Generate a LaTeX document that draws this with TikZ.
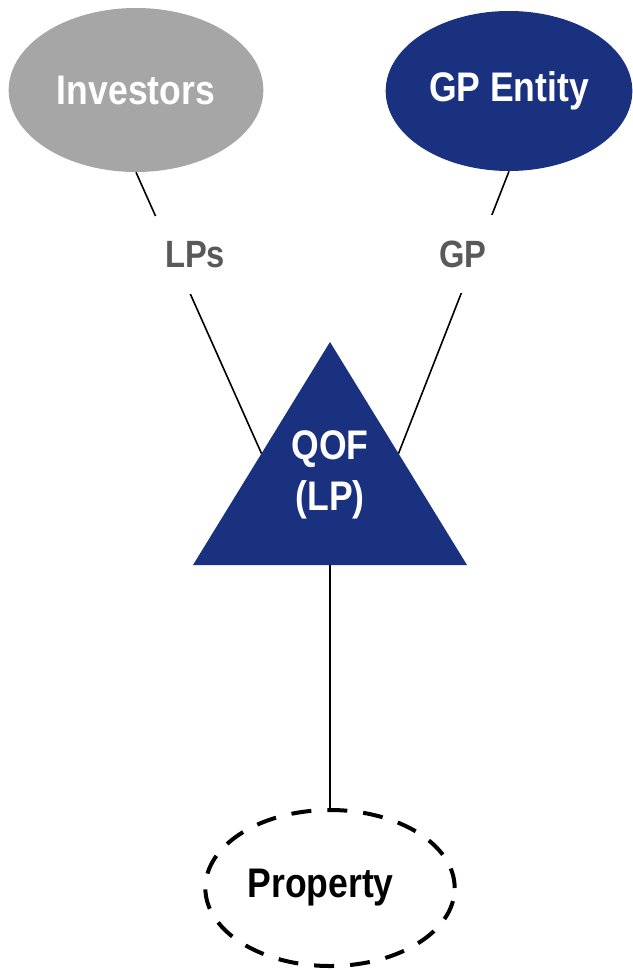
\documentclass[tikz,border=0pt]{standalone}
\usepackage{fontspec}
\setmainfont{Liberation Sans}[FakeStretch=0.86]
\usetikzlibrary{shapes.geometric}
\definecolor{qofblue}{HTML}{1A3180}
\definecolor{invgray}{HTML}{A6A6A6}
\definecolor{sharegray}{HTML}{595959}

\begin{document}
\begin{tikzpicture}[x=0.75pt,y=-0.75pt]
\tikzstyle{owner}=[ellipse,inner sep=0pt,text=white,font=\fontsize{31}{37}\selectfont\bfseries]
\tikzstyle{share}=[fill=white,inner sep=0pt,minimum height=58pt,text=sharegray,font=\fontsize{28.5}{34}\selectfont\bfseries]
\tikzstyle{link}=[line width=1.2pt]
\useasboundingbox (0,0) rectangle (632,970);
\node[owner,fill=invgray,minimum width=191pt,minimum height=123pt] (inv) at (136,90) {Investors};
\node[owner,fill=qofblue,minimum width=185pt,minimum height=120pt] (gp) at (509,91) {GP Entity};
\fill[qofblue] (330,342) -- coordinate (qr) (467,565) -- coordinate (qm) (193,565) -- coordinate (ql) (330,342) -- cycle;
\node[text=white,align=center,font=\fontsize{31}{38}\selectfont\bfseries] (qof) at (330,475) {QOF\\(LP)};
\node[ellipse,draw,line width=3pt,dash pattern=on 15pt off 12pt,inner sep=0pt,minimum width=187pt,minimum height=117pt,font=\fontsize{31}{37}\selectfont\bfseries] (prop) at (330,888) {\hspace*{-14pt}Property};
\draw[link] (inv.south) -- (ql);
\draw[link] (gp.south) -- (qr);
\draw[link] (qm) -- (prop.north);
\node[share,minimum width=60pt] (lps) at (195,255) {LPs};
\node[share,minimum width=48pt] (gpl) at (463,254) {GP};
\end{tikzpicture}
\end{document}
